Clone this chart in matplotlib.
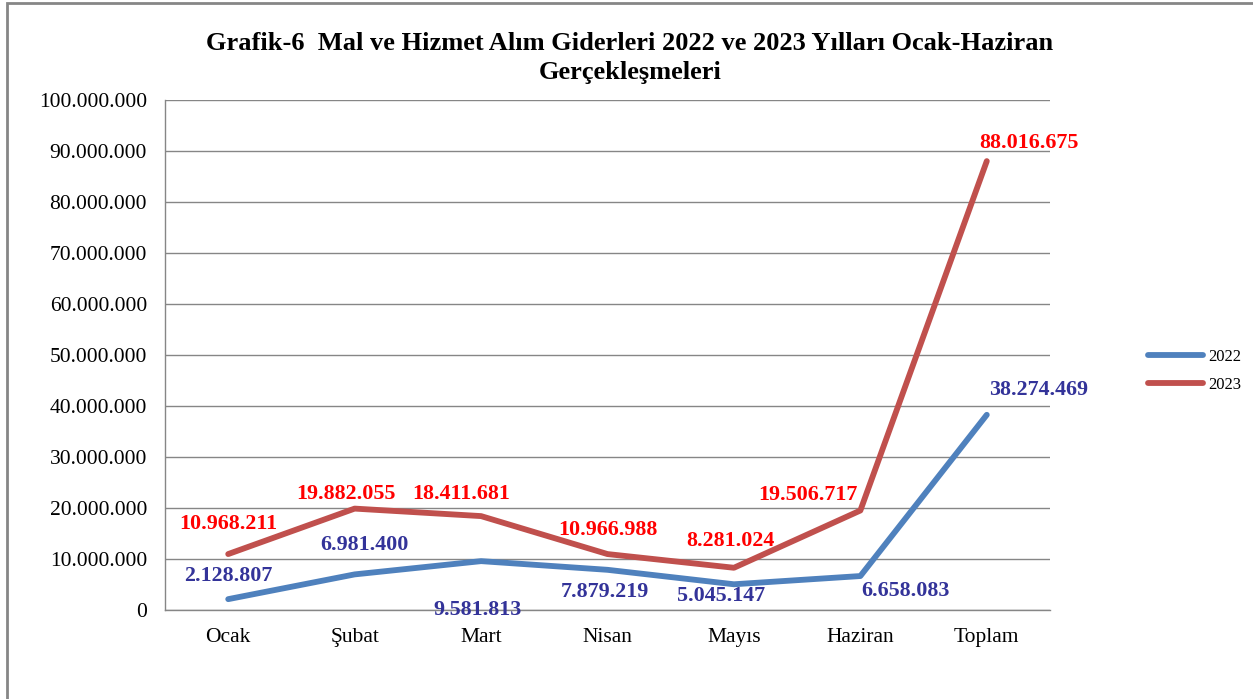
import matplotlib.pyplot as plt
from matplotlib.patches import Rectangle
from matplotlib.ticker import FuncFormatter

plt.rcParams['font.family'] = ['Liberation Serif', 'DejaVu Serif']

months = ['Ocak', 'Şubat', 'Mart', 'Nisan', 'Mayıs', 'Haziran', 'Toplam']
y2022 = [2128807, 6981400, 9581813, 7879219, 5045147, 6658083, 38274469]
y2023 = [10968211, 19882055, 18411681, 10966988, 8281024, 19506717, 88016675]

# label offsets in pixels (dx, dy)
off2022 = [(0, 23), (10, 29), (-4, -49), (-3, -22), (-13, -12), (45, -15), (52, 25)]
off2023 = [(0, 30), (-9, 15), (-20, 22), (0, 24), (-4, 27), (-52, 16), (42, 18)]

def tr(v):
    return f'{v:,.0f}'.replace(',', '.')

fig = plt.figure(figsize=(12.53, 6.99), dpi=100)
ax = fig.add_axes([165 / 1253, 1 - 610 / 699, (1050 - 165) / 1253, 510 / 699])

x = range(len(months))
ax.plot(x, y2022, color='#4F81BD', lw=4.2, solid_capstyle='round', label='2022')
ax.plot(x, y2023, color='#C0504D', lw=4.2, solid_capstyle='round', label='2023')

for i in x:
    ax.annotate(tr(y2022[i]), (i, y2022[i]), xytext=off2022[i], textcoords='offset pixels',
                ha='center', va='center', color='#333399', fontsize=15.8, fontweight='bold')
    ax.annotate(tr(y2023[i]), (i, y2023[i]), xytext=off2023[i], textcoords='offset pixels',
                ha='center', va='center', color='#FF0000', fontsize=15.8, fontweight='bold')

ax.set_xlim(-0.5, 6.5)
ax.set_ylim(0, 100000000)
ax.set_yticks(range(0, 100000001, 10000000))
ax.yaxis.set_major_formatter(FuncFormatter(lambda v, p: tr(v)))
ax.set_xticks(list(x))
ax.set_xticklabels(months)
ax.tick_params(axis='both', length=0, labelsize=15.5, pad=13)
ax.tick_params(axis='x', pad=13)
ax.grid(axis='y', color='#868686', lw=1)
ax.set_axisbelow(True)
for s in ['top', 'right']:
    ax.spines[s].set_visible(False)
for s in ['left', 'bottom']:
    ax.spines[s].set_color('#868686')
    ax.spines[s].set_linewidth(1)

fig.text(630 / 1253, 1 - 43 / 699, 'Grafik-6  Mal ve Hizmet Alım Giderleri 2022 ve 2023 Yılları Ocak-Haziran',
         ha='center', va='center', fontsize=19, fontweight='bold')
fig.text(630 / 1253, 1 - 73 / 699, 'Gerçekleşmeleri',
         ha='center', va='center', fontsize=19, fontweight='bold')

fig.legend(loc='center left', bbox_to_anchor=(1133 / 1253, 1 - 371 / 699), frameon=False,
           fontsize=12, handlelength=3.3, labelspacing=0.75, handletextpad=0.3)

fig.patches.append(Rectangle((7 / 1253, -0.05), 1.1, 1.05 - 3 / 699, transform=fig.transFigure,
                             fill=False, edgecolor='#868686', lw=2))

fig.savefig('out.png', dpi=100)
